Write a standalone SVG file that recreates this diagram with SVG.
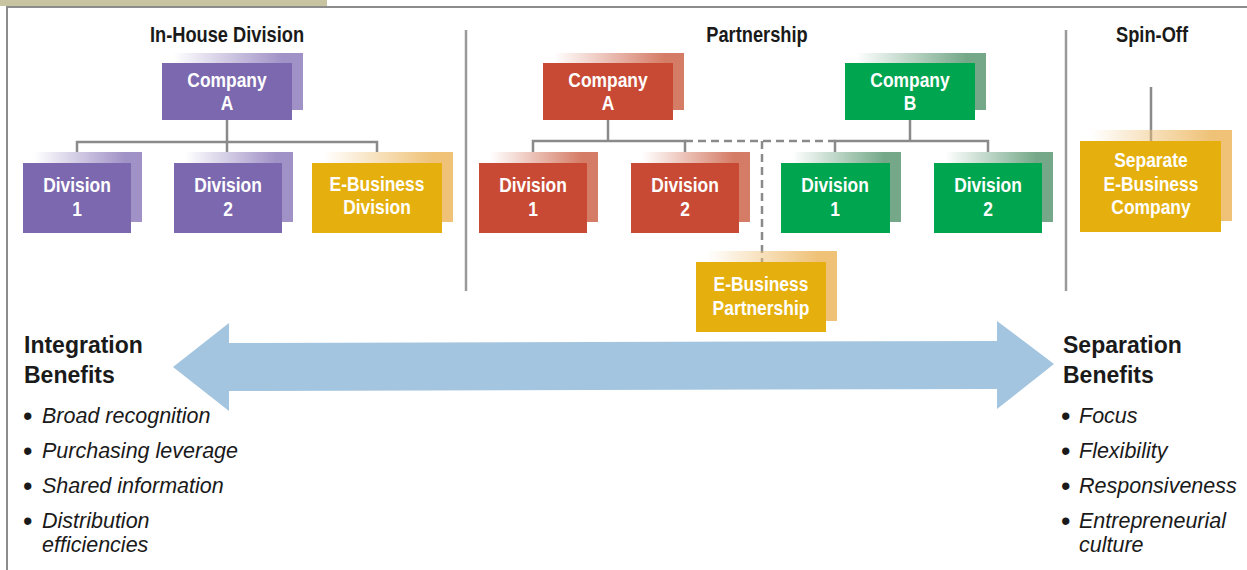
<svg xmlns="http://www.w3.org/2000/svg" width="1247" height="570" viewBox="0 0 1247 570">
<defs>
<linearGradient id="gP" x1="0" y1="0" x2="1" y2="0"><stop offset="0" stop-color="#a091c6" stop-opacity="0"/><stop offset="0.85" stop-color="#a091c6"/></linearGradient>
<linearGradient id="gR" x1="0" y1="0" x2="1" y2="0"><stop offset="0" stop-color="#d57c66" stop-opacity="0"/><stop offset="0.85" stop-color="#d57c66"/></linearGradient>
<linearGradient id="gG" x1="0" y1="0" x2="1" y2="0"><stop offset="0" stop-color="#74a888" stop-opacity="0"/><stop offset="0.85" stop-color="#74a888"/></linearGradient>
<linearGradient id="gY" x1="0" y1="0" x2="1" y2="0"><stop offset="0" stop-color="#efc278" stop-opacity="0"/><stop offset="0.85" stop-color="#efc278"/></linearGradient>
<style>
.bx{font-family:"Liberation Sans",Arial,sans-serif;font-weight:bold;font-size:21px;fill:#fff;text-anchor:middle}
.ttl{font-family:"Liberation Sans",Arial,sans-serif;font-weight:bold;font-size:22px;fill:#1a1a1a;text-anchor:middle}
.hd{font-family:"Liberation Sans",Arial,sans-serif;font-weight:bold;font-size:23px;fill:#1a1a1a}
.it{font-family:"Liberation Sans",Arial,sans-serif;font-style:italic;font-size:21.5px;fill:#1a1a1a}
.bl{font-family:"Liberation Sans",Arial,sans-serif;font-size:27px;fill:#1a1a1a}
.ln{stroke:#8a8a8a;stroke-width:2.5;fill:none}
.dl{stroke:#8a8a8a;stroke-width:2.5;fill:none;stroke-dasharray:8 5}
.sep{stroke:#9a9a9a;stroke-width:2.5}
.fp{fill:#7b68ae}.fr{fill:#c84a34}.fg{fill:#00a550}.fy{fill:#e5b00e}
</style>
</defs>
<rect x="0" y="0" width="327" height="6" fill="#c8c3a0"/>
<path d="M7,570 V7 H1247" stroke="#8c8c8c" stroke-width="2" fill="none"/>
<line class="sep" x1="466" y1="30" x2="466" y2="291"/>
<line class="sep" x1="1066" y1="30" x2="1066" y2="291"/>
<text class="ttl" transform="translate(227,0) scale(0.83,1)" x="0" y="42">In-House Division</text>
<text class="ttl" transform="translate(757,0) scale(0.83,1)" x="0" y="42">Partnership</text>
<text class="ttl" transform="translate(1152,0) scale(0.83,1)" x="0" y="42">Spin-Off</text>

<g id="connectors">
<path class="ln" d="M227,120 V142 M77,152 V142 H377 V152 M227,142 V152"/>
<path class="ln" d="M608,120 V141 M533,152 V141 H685 V152"/>
<path class="ln" d="M910,120 V141 M835,152 V141 H988 V152"/>
<path class="dl" d="M685,141 H835 M762,141 V262"/>
<path class="ln" d="M1151,87 V141"/>
</g>

<g id="ih-companyA"><rect x="173" y="53" width="130" height="57" fill="url(#gP)"/><rect class="fp" x="162" y="63" width="130" height="57"/><g transform="translate(227,0) scale(0.83,1)"><text class="bx" x="0" y="87">Company</text><text class="bx" x="0" y="110">A</text></g></g>
<g id="ih-division1"><rect x="34" y="152" width="108" height="70" fill="url(#gP)"/><rect class="fp" x="23" y="163" width="108" height="70"/><g transform="translate(77,0) scale(0.83,1)"><text class="bx" x="0" y="192">Division</text><text class="bx" x="0" y="216">1</text></g></g>
<g id="ih-division2"><rect x="185" y="152" width="108" height="70" fill="url(#gP)"/><rect class="fp" x="174" y="163" width="108" height="70"/><g transform="translate(228,0) scale(0.83,1)"><text class="bx" x="0" y="192">Division</text><text class="bx" x="0" y="216">2</text></g></g>
<g id="ih-ebusiness"><rect x="323" y="152" width="130" height="70" fill="url(#gY)"/><rect class="fy" x="312" y="163" width="130" height="70"/><g transform="translate(377,0) scale(0.83,1)"><text class="bx" x="0" y="191">E-Business</text><text class="bx" x="0" y="214">Division</text></g></g>

<g id="p-companyA"><rect x="554" y="53" width="130" height="57" fill="url(#gR)"/><rect class="fr" x="543" y="63" width="130" height="57"/><g transform="translate(608,0) scale(0.83,1)"><text class="bx" x="0" y="87">Company</text><text class="bx" x="0" y="110">A</text></g></g>
<g id="p-companyB"><rect x="856" y="53" width="130" height="57" fill="url(#gG)"/><rect class="fg" x="845" y="63" width="130" height="57"/><g transform="translate(910,0) scale(0.83,1)"><text class="bx" x="0" y="87">Company</text><text class="bx" x="0" y="110">B</text></g></g>
<g id="p-a-division1"><rect x="490" y="152" width="108" height="70" fill="url(#gR)"/><rect class="fr" x="479" y="163" width="108" height="70"/><g transform="translate(533,0) scale(0.83,1)"><text class="bx" x="0" y="192">Division</text><text class="bx" x="0" y="216">1</text></g></g>
<g id="p-a-division2"><rect x="642" y="152" width="108" height="70" fill="url(#gR)"/><rect class="fr" x="631" y="163" width="108" height="70"/><g transform="translate(685,0) scale(0.83,1)"><text class="bx" x="0" y="192">Division</text><text class="bx" x="0" y="216">2</text></g></g>
<g id="p-b-division1"><rect x="792" y="152" width="109" height="70" fill="url(#gG)"/><rect class="fg" x="781" y="163" width="109" height="70"/><g transform="translate(835,0) scale(0.83,1)"><text class="bx" x="0" y="192">Division</text><text class="bx" x="0" y="216">1</text></g></g>
<g id="p-b-division2"><rect x="945" y="152" width="108" height="70" fill="url(#gG)"/><rect class="fg" x="934" y="163" width="108" height="70"/><g transform="translate(988,0) scale(0.83,1)"><text class="bx" x="0" y="192">Division</text><text class="bx" x="0" y="216">2</text></g></g>
<g id="p-ebusiness"><rect x="707" y="251" width="130" height="70" fill="url(#gY)"/><rect class="fy" x="696" y="262" width="130" height="70"/><g transform="translate(761,0) scale(0.83,1)"><text class="bx" x="0" y="291">E-Business</text><text class="bx" x="0" y="315">Partnership</text></g></g>

<g id="s-ebusiness"><rect x="1091" y="130" width="141" height="91" fill="url(#gY)"/><rect class="fy" x="1080" y="141" width="141" height="91"/><g transform="translate(1151,0) scale(0.83,1)"><text class="bx" x="0" y="167">Separate</text><text class="bx" x="0" y="191">E-Business</text><text class="bx" x="0" y="214">Company</text></g></g>

<polygon points="173,367 229,323 229,343 997,341 997,321 1054,364 997,409 997,389 229,391 229,411" fill="#a3c5df"/>

<text class="hd" x="24" y="353">Integration</text>
<text class="hd" x="24" y="383">Benefits</text>
<g>
<text class="bl" x="23" y="425">•</text><text class="it" x="42" y="423">Broad recognition</text>
<text class="bl" x="23" y="460">•</text><text class="it" x="42" y="458">Purchasing leverage</text>
<text class="bl" x="23" y="495">•</text><text class="it" x="42" y="493">Shared information</text>
<text class="bl" x="23" y="530">•</text><text class="it" x="42" y="528">Distribution</text>
<text class="it" x="42" y="552">efficiencies</text>
</g>
<text class="hd" x="1063" y="353">Separation</text>
<text class="hd" x="1063" y="383">Benefits</text>
<g>
<text class="bl" x="1061" y="425">•</text><text class="it" x="1079" y="423">Focus</text>
<text class="bl" x="1061" y="460">•</text><text class="it" x="1079" y="458">Flexibility</text>
<text class="bl" x="1061" y="495">•</text><text class="it" x="1079" y="493">Responsiveness</text>
<text class="bl" x="1061" y="530">•</text><text class="it" x="1079" y="528">Entrepreneurial</text>
<text class="it" x="1079" y="552">culture</text>
</g>
</svg>
